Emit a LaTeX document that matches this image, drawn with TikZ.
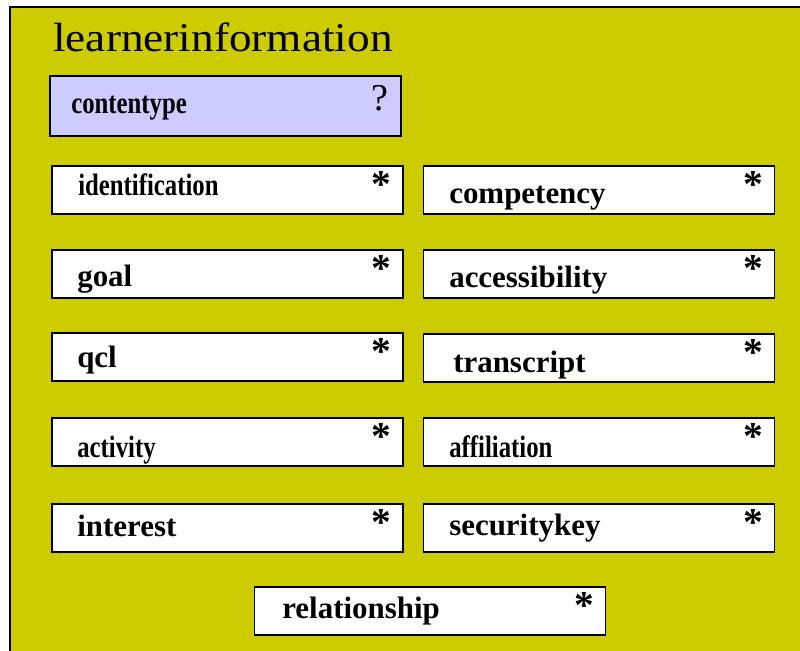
\documentclass[tikz,border=0pt]{standalone}
\usepackage{fontspec}
\usepackage{graphicx}
\setmainfont{Liberation Serif}
\definecolor{olivebg}{RGB}{204,204,0}
\definecolor{lilac}{RGB}{204,204,255}
% narrow set for the long element names
\newcommand{\squeeze}[1]{\scalebox{0.8}[1]{#1}}
\begin{document}
\begin{tikzpicture}[x=0.025cm,y=-0.025cm]
        \tikzstyle{element}=[rectangle,draw=black,line width=1.2pt,fill=white,minimum width=8.77cm,minimum height=1.2cm,inner sep=0]
        \tikzstyle{elemlabel}=[anchor=base west,inner sep=0,font=\fontsize{22}{26}\selectfont\bfseries]
        \tikzstyle{multi}=[anchor=base,inner sep=0,font=\fontsize{28}{30}\selectfont\bfseries]
        \useasboundingbox (0,0) rectangle (800,650);
        \clip (0,0) rectangle (800,650);
        % outer container
        \fill[olivebg] (10,7) rectangle (810,660);
        \draw[line width=1.4pt] (10,660) -- (10,7) -- (810,7);
        \node[anchor=base west,inner sep=0,font=\fontsize{29}{34}\selectfont] (title) at (53,52) {\scalebox{1.11}[1]{learnerinformation}};
       \begin{scope}
         \node [element,fill=lilac,minimum height=1.5cm] (contentype) at (225.5,106) {};
         \node [elemlabel] (contentype-l) at (71,113) {\squeeze{contentype}};
         \node [anchor=base,inner sep=0,font=\fontsize{27}{30}\selectfont] (contentype-q) at (380,110) {?};

         \node [element] (identification) at (227.5,190) {};
         \node [element] (competency) at (599,190) {};
         \node [element] (goal) at (227.5,274) {};
         \node [element] (accessibility) at (599,274) {};
         \node [element] (qcl) at (227.5,357) {};
         \node [element] (transcript) at (599,358) {};
         \node [element] (activity) at (227.5,442) {};
         \node [element] (affiliation) at (599,442) {};
         \node [element] (interest) at (227.5,528) {};
         \node [element] (securitykey) at (599,528) {};
         \node [element] (relationship) at (430,611) {};

         \node [elemlabel] (identification-l) at (78,195) {\squeeze{identification}};
         \node [elemlabel] (competency-l) at (449,203) {competency};
         \node [elemlabel] (goal-l) at (77,286) {goal};
         \node [elemlabel] (accessibility-l) at (449,287) {accessibility};
         \node [elemlabel] (qcl-l) at (77,367) {qcl};
         \node [elemlabel] (transcript-l) at (453,372) {transcript};
         \node [elemlabel] (activity-l) at (77,457) {\squeeze{activity}};
         \node [elemlabel] (affiliation-l) at (449,457) {\squeeze{affiliation}};
         \node [elemlabel] (interest-l) at (77,536) {interest};
         \node [elemlabel] (securitykey-l) at (449,535) {securitykey};
         \node [elemlabel] (relationship-l) at (282,618) {relationship};

         \foreach \e in {identification,competency,goal,accessibility,qcl,transcript,activity,affiliation,interest,securitykey,relationship}
           \node [multi] (\e-m) at ([shift={(-22,32)}]\e.north east) {*};
        \end{scope}
      \end{tikzpicture}
\end{document}
